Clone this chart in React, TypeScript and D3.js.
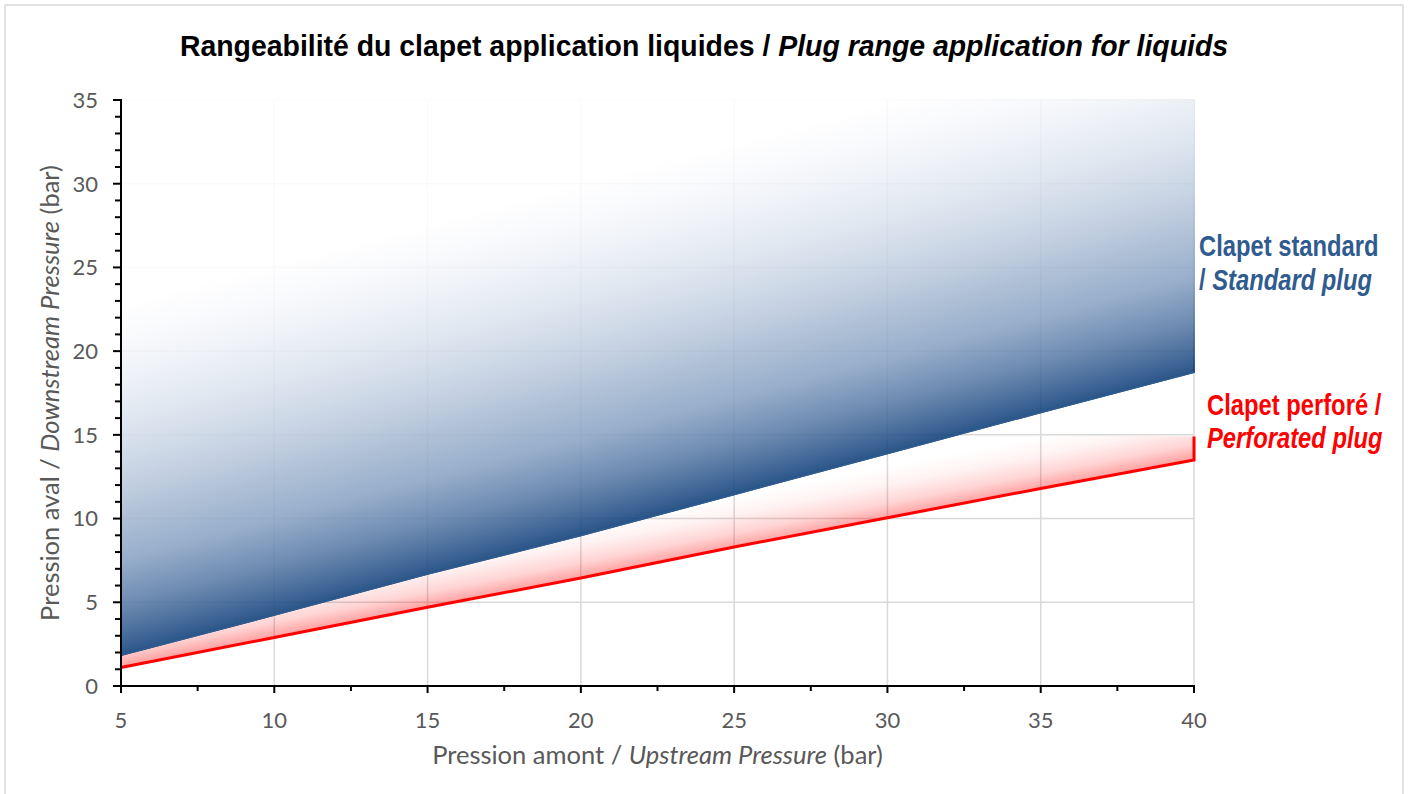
import * as d3 from "d3";

// Upstream pressure (bar)
const upstream = [5, 10, 15, 20, 25, 30, 35, 40];
// Lower limit of the standard plug (bar)
const standardPlug = [1.85, 4.25, 6.7, 9.0, 11.45, 13.9, 16.35, 18.75];
// Lower limit of the perforated plug (bar)
const perforatedPlug = [1.1, 2.9, 4.7, 6.45, 8.3, 10.05, 11.8, 13.5];
// Top of the perforated band
const perforatedTop = [1.85, 4.25, 6.7, 9.0, 11.2, 13.2, 15.0, 14.9];

const xTicks = [5, 10, 15, 20, 25, 30, 35, 40];
const yTicks = [0, 5, 10, 15, 20, 25, 30, 35];

const W = 1408;
const H = 794;
const left = 121;
const right = 1194;
const top = 100;
const bottom = 686;

const grey = "#595959";
const blue = "#2f5b8f";
const narrow = "'Liberation Sans', Arial, sans-serif";
const body = "Lato, 'Open Sans', sans-serif";

// colour that gives `c` once drawn with `alpha` over white
const under = (c: string, alpha: number) => {
  const k = d3.rgb(c);
  const f = (v: number) => Math.max(0, Math.min(255, (v - (1 - alpha) * 255) / alpha));
  return d3.rgb(f(k.r), f(k.g), f(k.b)).formatHex();
};

const blueAlpha = 0.88;
const blueStops: [number, string][] = [
  [0, "#2c5689"],
  [0.05, "#456a99"],
  [0.14, "#6d8bb1"],
  [0.27, "#98aecb"],
  [0.36, "#a9bcd3"],
  [0.48, "#c2cfe0"],
  [0.57, "#d0dbe8"],
  [0.69, "#e2e9f2"],
  [0.78, "#edf1f6"],
  [0.9, "#f9fafc"],
  [1, "#ffffff"],
];

// bold sans text squeezed horizontally (narrow look)
const Narrow = ({ x, y, anchor = "start", fill, squeeze = 0.82, children }: any) => (
  <text
    transform={`translate(${x},${y}) scale(${squeeze},1)`}
    textAnchor={anchor}
    fontFamily={narrow}
    fontWeight="bold"
    fontSize={29}
    fill={fill}
  >
    {children}
  </text>
);

export default function App() {
  const x = d3.scaleLinear().domain([5, 40]).range([left, right]);
  const y = d3.scaleLinear().domain([0, 35]).range([bottom, top]);

  type Pt = { x: number; lo: number; hi: number };
  const blueData: Pt[] = upstream.map((u, i) => ({ x: u, lo: standardPlug[i], hi: 35 }));
  const redData: Pt[] = upstream.map((u, i) => ({ x: u, lo: perforatedPlug[i], hi: perforatedTop[i] }));

  const area = d3
    .area<Pt>()
    .x((d) => x(d.x))
    .y0((d) => y(d.lo))
    .y1((d) => y(d.hi));

  const line = d3
    .line<[number, number]>()
    .x((d) => x(d[0]))
    .y((d) => y(d[1]));

  // gradient runs perpendicular to a series line, upwards
  const normal = (vals: number[], len: number) => {
    const x0 = x(upstream[0]);
    const y0 = y(vals[0]);
    const dx = x(upstream[upstream.length - 1]) - x0;
    const dy = y(vals[vals.length - 1]) - y0;
    const l = Math.hypot(dx, dy);
    return { x1: x0, y1: y0, x2: x0 + (dy / l) * len, y2: y0 - (dx / l) * len };
  };
  const gBlue = normal(standardPlug, 340);
  const gRed = normal(perforatedPlug, 52);

  const redEdge: [number, number][] = [
    ...upstream.map((u, i) => [u, perforatedPlug[i]] as [number, number]),
    [40, perforatedTop[perforatedTop.length - 1]],
  ];
  const blueEdge: [number, number][] = upstream.map((u, i) => [u, standardPlug[i]]);

  const yMinor = d3.range(0, 36, 1);
  const xMinor = d3.range(5, 40.1, 2.5);

  return (
    <svg width={W} height={H} style={{ position: "absolute", left: 0, top: 0, background: "#fff" }}>
      <defs>
        <linearGradient id="blueGrad" gradientUnits="userSpaceOnUse" {...gBlue}>
          {blueStops.map(([o, c]) => (
            <stop key={o} offset={o} stopColor={under(c, blueAlpha)} stopOpacity={blueAlpha} />
          ))}
        </linearGradient>
        <linearGradient id="redGrad" gradientUnits="userSpaceOnUse" {...gRed}>
          <stop offset={0} stopColor="#ff0000" stopOpacity={0.38} />
          <stop offset={0.3} stopColor="#ff0000" stopOpacity={0.17} />
          <stop offset={0.65} stopColor="#ff0000" stopOpacity={0.05} />
          <stop offset={1} stopColor="#ff0000" stopOpacity={0} />
        </linearGradient>
      </defs>

      <rect x={5} y={5} width={1398} height={H + 10} fill="#fff" stroke="#d9d9d9" strokeWidth={1.5} />

      {/* grid */}
      <g stroke="#d9d9d9" strokeWidth={1.5}>
        {yTicks.slice(1).map((t) => (
          <line key={"gy" + t} x1={left} x2={right} y1={y(t)} y2={y(t)} />
        ))}
        {xTicks.slice(1).map((t) => (
          <line key={"gx" + t} x1={x(t)} x2={x(t)} y1={top} y2={bottom} />
        ))}
      </g>

      {/* perforated plug band */}
      <path d={area(redData) || ""} fill="url(#redGrad)" />
      <path d={line(redEdge) || ""} fill="none" stroke="#ff0000" strokeWidth={3} strokeLinejoin="miter" />

      {/* standard plug band */}
      <path d={area(blueData) || ""} fill="url(#blueGrad)" stroke="url(#blueGrad)" strokeWidth={2} />
      <path d={line(blueEdge) || ""} fill="none" stroke={blue} strokeWidth={2} />

      {/* axes */}
      <g stroke="#000" strokeWidth={2}>
        <line x1={left} x2={left} y1={top - 1} y2={bottom + 1} />
        <line x1={left - 1} x2={right + 1} y1={bottom} y2={bottom} />
        {yMinor.map((t) => (
          <line key={"ty" + t} x1={left - (t % 5 === 0 ? 8 : 6)} x2={left} y1={y(t)} y2={y(t)} />
        ))}
        {xMinor.map((t) => (
          <line key={"tx" + t} x1={x(t)} x2={x(t)} y1={bottom} y2={bottom + (t % 5 === 0 ? 7 : 5)} />
        ))}
      </g>

      <g fill={grey} fontFamily={body} fontSize={22}>
        {yTicks.map((t) => (
          <text key={"ly" + t} x={left - 23} y={y(t)} dy="0.36em" textAnchor="end">
            {t}
          </text>
        ))}
        {xTicks.map((t) => (
          <text key={"lx" + t} x={x(t)} y={bottom + 34} dy="0.36em" textAnchor="middle">
            {t}
          </text>
        ))}
      </g>

      {/* axis titles */}
      <text x={(left + right) / 2} y={764} textAnchor="middle" fill={grey} fontFamily={body} fontSize={25.5}>
        Pression amont / <tspan fontStyle="italic">Upstream Pressure</tspan> (bar)
      </text>
      <text
        transform={`translate(59,${(top + bottom) / 2}) rotate(-90)`}
        textAnchor="middle"
        fill={grey}
        fontFamily={body}
        fontSize={25.5}
      >
        Pression aval / <tspan fontStyle="italic">Downstream Pressure</tspan> (bar)
      </text>

      {/* title */}
      <Narrow x={704} y={56} anchor="middle" fill="#000" squeeze={0.98}>
        Rangeabilité du clapet application liquides / <tspan fontStyle="italic">Plug range application for liquids</tspan>
      </Narrow>

      {/* series labels */}
      <Narrow x={1199} y={256} fill={blue}>
        Clapet standard
      </Narrow>
      <Narrow x={1199} y={290} fill={blue}>
        / <tspan fontStyle="italic">Standard plug</tspan>
      </Narrow>
      <Narrow x={1207} y={415} fill="#ff0000">
        Clapet perforé /
      </Narrow>
      <Narrow x={1207} y={448} fill="#ff0000">
        <tspan fontStyle="italic">Perforated plug</tspan>
      </Narrow>
    </svg>
  );
}
